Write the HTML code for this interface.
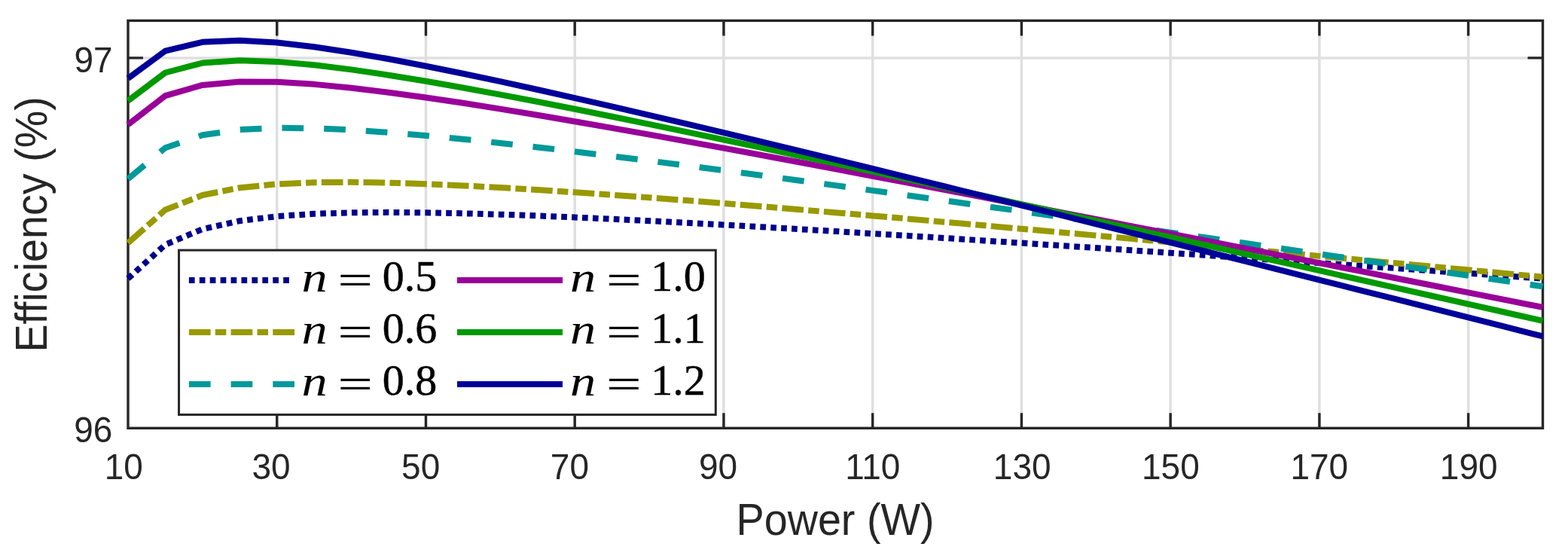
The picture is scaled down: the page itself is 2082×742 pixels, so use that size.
<!DOCTYPE html>
<html><head><meta charset="utf-8"><title>Efficiency vs Power</title><style>html,body{margin:0;padding:0;background:#fff;}svg{display:block;}</style></head><body>
<svg width="2082" height="742" viewBox="0 0 2082 742">
<rect x="0" y="0" width="2082" height="742" fill="#ffffff"/>
<path d="M367.74,27.40V568.30M565.47,27.40V568.30M763.21,27.40V568.30M960.94,27.40V568.30M1158.68,27.40V568.30M1356.42,27.40V568.30M1554.15,27.40V568.30M1751.89,27.40V568.30M1949.62,27.40V568.30M170.00,76.90H2048.50" stroke="#dfdfdf" stroke-width="3.5" fill="none"/>
<path d="M367.74,568.30V548.30M367.74,27.40V47.40M565.47,568.30V548.30M565.47,27.40V47.40M763.21,568.30V548.30M763.21,27.40V47.40M960.94,568.30V548.30M960.94,27.40V47.40M1158.68,568.30V548.30M1158.68,27.40V47.40M1356.42,568.30V548.30M1356.42,27.40V47.40M1554.15,568.30V548.30M1554.15,27.40V47.40M1751.89,568.30V548.30M1751.89,27.40V47.40M1949.62,568.30V548.30M1949.62,27.40V47.40M170.00,76.90H190.00M2048.50,76.90H2028.50" stroke="#262626" stroke-width="3.4" fill="none"/>
<rect x="170.0" y="27.4" width="1878.50" height="540.90" stroke="#262626" stroke-width="3.4" fill="none"/>
<path d="M170.00,369.78 L219.43,324.81 L268.87,304.15 L318.30,293.21 L367.74,287.13 L417.17,283.83 L466.60,282.26 L516.04,281.85 L565.47,282.25 L614.91,283.24 L664.34,284.68 L713.77,286.45 L763.21,288.49 L812.64,290.74 L862.08,293.17 L911.51,295.74 L960.94,298.43 L1010.38,301.22 L1059.81,304.10 L1109.25,307.04 L1158.68,310.06 L1208.11,313.12 L1257.55,316.24 L1306.98,319.39 L1356.42,322.59 L1405.85,325.81 L1455.28,329.07 L1504.72,332.35 L1554.15,335.66 L1603.59,338.99 L1653.02,342.34 L1702.45,345.71 L1751.89,349.09 L1801.32,352.49 L1850.76,355.90 L1900.19,359.32 L1949.62,362.76 L1999.06,366.20 L2048.49,369.66" stroke="#00008b" stroke-width="8" fill="none" stroke-linejoin="round" stroke-dasharray="7.7 6.22"/>
<path d="M170.00,322.52 L219.43,278.57 L268.87,259.02 L318.30,249.23 L367.74,244.32 L417.17,242.20 L466.60,241.81 L516.04,242.60 L565.47,244.19 L614.91,246.38 L664.34,249.01 L713.77,251.98 L763.21,255.21 L812.64,258.67 L862.08,262.30 L911.51,266.07 L960.94,269.96 L1010.38,273.95 L1059.81,278.02 L1109.25,282.18 L1158.68,286.39 L1208.11,290.66 L1257.55,294.97 L1306.98,299.33 L1356.42,303.73 L1405.85,308.16 L1455.28,312.62 L1504.72,317.11 L1554.15,321.62 L1603.59,326.15 L1653.02,330.70 L1702.45,335.27 L1751.89,339.86 L1801.32,344.46 L1850.76,349.08 L1900.19,353.70 L1949.62,358.34 L1999.06,362.99 L2048.49,367.65" stroke="#999900" stroke-width="8" fill="none" stroke-linejoin="round" stroke-dasharray="28.7 6.25 14.5 6.25"/>
<path d="M170.00,237.48 L219.43,196.24 L268.87,179.32 L318.30,172.13 L367.74,169.80 L417.17,170.26 L466.60,172.45 L516.04,175.80 L565.47,179.97 L614.91,184.72 L664.34,189.91 L713.77,195.45 L763.21,201.25 L812.64,207.27 L862.08,213.45 L911.51,219.79 L960.94,226.24 L1010.38,232.79 L1059.81,239.43 L1109.25,246.14 L1158.68,252.91 L1208.11,259.74 L1257.55,266.62 L1306.98,273.54 L1356.42,280.49 L1405.85,287.48 L1455.28,294.50 L1504.72,301.55 L1554.15,308.62 L1603.59,315.71 L1653.02,322.82 L1702.45,329.95 L1751.89,337.10 L1801.32,344.26 L1850.76,351.43 L1900.19,358.62 L1949.62,365.82 L1999.06,373.03 L2048.49,380.24" stroke="#009999" stroke-width="8" fill="none" stroke-linejoin="round" stroke-dasharray="28.7 27.0"/>
<path d="M170.00,165.39 L219.43,127.07 L268.87,112.91 L318.30,108.42 L367.74,108.76 L417.17,111.86 L466.60,116.69 L516.04,122.67 L565.47,129.46 L614.91,136.83 L664.34,144.64 L713.77,152.79 L763.21,161.20 L812.64,169.83 L862.08,178.63 L911.51,187.57 L960.94,196.63 L1010.38,205.79 L1059.81,215.03 L1109.25,224.35 L1158.68,233.73 L1208.11,243.16 L1257.55,252.64 L1306.98,262.17 L1356.42,271.73 L1405.85,281.32 L1455.28,290.95 L1504.72,300.60 L1554.15,310.27 L1603.59,319.97 L1653.02,329.68 L1702.45,339.42 L1751.89,349.16 L1801.32,358.93 L1850.76,368.71 L1900.19,378.50 L1949.62,388.30 L1999.06,398.11 L2048.49,407.93" stroke="#990099" stroke-width="8" fill="none" stroke-linejoin="round"/>
<path d="M170.00,133.78 L219.43,96.50 L268.87,83.53 L318.30,80.28 L367.74,81.89 L417.17,86.28 L466.60,92.40 L516.04,99.68 L565.47,107.78 L614.91,116.46 L664.34,125.58 L713.77,135.04 L763.21,144.77 L812.64,154.72 L862.08,164.84 L911.51,175.10 L960.94,185.48 L1010.38,195.96 L1059.81,206.52 L1109.25,217.16 L1158.68,227.86 L1208.11,238.62 L1257.55,249.42 L1306.98,260.27 L1356.42,271.15 L1405.85,282.07 L1455.28,293.02 L1504.72,303.99 L1554.15,314.99 L1603.59,326.01 L1653.02,337.05 L1702.45,348.11 L1751.89,359.18 L1801.32,370.27 L1850.76,381.37 L1900.19,392.48 L1949.62,403.61 L1999.06,414.74 L2048.49,425.89" stroke="#009900" stroke-width="8" fill="none" stroke-linejoin="round"/>
<path d="M170.00,104.09 L219.43,67.65 L268.87,55.77 L318.30,53.72 L367.74,56.59 L417.17,62.26 L466.60,69.69 L516.04,78.29 L565.47,87.71 L614.91,97.73 L664.34,108.19 L713.77,118.99 L763.21,130.07 L812.64,141.36 L862.08,152.82 L911.51,164.43 L960.94,176.16 L1010.38,188.00 L1059.81,199.92 L1109.25,211.91 L1158.68,223.96 L1208.11,236.08 L1257.55,248.24 L1306.98,260.44 L1356.42,272.68 L1405.85,284.96 L1455.28,297.26 L1504.72,309.59 L1554.15,321.95 L1603.59,334.32 L1653.02,346.72 L1702.45,359.14 L1751.89,371.57 L1801.32,384.02 L1850.76,396.48 L1900.19,408.95 L1949.62,421.43 L1999.06,433.93 L2048.49,446.44" stroke="#000099" stroke-width="8" fill="none" stroke-linejoin="round"/>
<g font-family="Liberation Sans, Arial, Helvetica, sans-serif" font-size="46" fill="#262626">
<text x="164.3" y="0" text-anchor="middle" transform="translate(0,635.9) scale(1,1.043)">10</text>
<text x="360.1" y="0" text-anchor="middle" transform="translate(0,635.9) scale(1,1.043)">30</text>
<text x="558.7" y="0" text-anchor="middle" transform="translate(0,635.9) scale(1,1.043)">50</text>
<text x="756.4" y="0" text-anchor="middle" transform="translate(0,635.9) scale(1,1.043)">70</text>
<text x="953.5" y="0" text-anchor="middle" transform="translate(0,635.9) scale(1,1.043)">90</text>
<text x="1158.8" y="0" text-anchor="middle" transform="translate(0,635.9) scale(1,1.043)">110</text>
<text x="1357.2" y="0" text-anchor="middle" transform="translate(0,635.9) scale(1,1.043)">130</text>
<text x="1554.4" y="0" text-anchor="middle" transform="translate(0,635.9) scale(1,1.043)">150</text>
<text x="1751.8" y="0" text-anchor="middle" transform="translate(0,635.9) scale(1,1.043)">170</text>
<text x="1950.2" y="0" text-anchor="middle" transform="translate(0,635.9) scale(1,1.043)">190</text>
<text x="124.0" y="0" text-anchor="middle" transform="translate(0,96.3) scale(1,1.043)">97</text>
<text x="123.8" y="0" text-anchor="middle" transform="translate(0,587.0) scale(1,1.043)">96</text>
</g>
<text x="0" y="0" font-family="Liberation Sans, Arial, Helvetica, sans-serif" font-size="55.7" fill="#262626" text-anchor="middle" transform="translate(1109.05,709.9) scale(1,1.06)">Power (W)</text>
<text x="0" y="0" font-family="Liberation Sans, Arial, Helvetica, sans-serif" font-size="55.7" fill="#262626" text-anchor="middle" transform="translate(62,297.95) rotate(-90) scale(1,1.06)">Efficiency (%)</text>
<rect x="237.55" y="332.1" width="712.75" height="218.35" fill="#ffffff" stroke="#262626" stroke-width="3"/>
<path d="M250.9,371.9H385.0" stroke="#00008b" stroke-width="8" fill="none" stroke-dasharray="7.7 6.22"/>
<g font-family="Liberation Serif, Times New Roman, serif" font-size="58" fill="#000" stroke="#000" stroke-width="0.5">
<text x="0" y="0" font-style="italic" stroke-width="0" transform="translate(400.49,386.60) scale(1.18,0.967)">n</text>
<text x="0" y="0" transform="translate(448.83,390.40) scale(1.408,0.959)">=</text>
<text x="507.80" y="386.00">0.5</text>
</g>
<path d="M250.9,441.0H391.0" stroke="#999900" stroke-width="8" fill="none" stroke-dasharray="28.7 6.25 14.5 6.25"/>
<g font-family="Liberation Serif, Times New Roman, serif" font-size="58" fill="#000" stroke="#000" stroke-width="0.5">
<text x="0" y="0" font-style="italic" stroke-width="0" transform="translate(400.49,455.60) scale(1.18,0.967)">n</text>
<text x="0" y="0" transform="translate(448.83,459.40) scale(1.408,0.959)">=</text>
<text x="507.80" y="455.00">0.6</text>
</g>
<path d="M250.9,510.0H391.0" stroke="#009999" stroke-width="8" fill="none" stroke-dasharray="28.7 27.0"/>
<g font-family="Liberation Serif, Times New Roman, serif" font-size="58" fill="#000" stroke="#000" stroke-width="0.5">
<text x="0" y="0" font-style="italic" stroke-width="0" transform="translate(400.49,524.60) scale(1.18,0.967)">n</text>
<text x="0" y="0" transform="translate(448.83,528.40) scale(1.408,0.959)">=</text>
<text x="507.80" y="524.00">0.8</text>
</g>
<path d="M607.0,371.9H747.0" stroke="#990099" stroke-width="8" fill="none"/>
<g font-family="Liberation Serif, Times New Roman, serif" font-size="58" fill="#000" stroke="#000" stroke-width="0.5">
<text x="0" y="0" font-style="italic" stroke-width="0" transform="translate(756.89,386.60) scale(1.18,0.967)">n</text>
<text x="0" y="0" transform="translate(805.23,390.40) scale(1.408,0.959)">=</text>
<text x="864.20" y="386.00">1.0</text>
</g>
<path d="M607.0,441.0H747.0" stroke="#009900" stroke-width="8" fill="none"/>
<g font-family="Liberation Serif, Times New Roman, serif" font-size="58" fill="#000" stroke="#000" stroke-width="0.5">
<text x="0" y="0" font-style="italic" stroke-width="0" transform="translate(756.89,455.60) scale(1.18,0.967)">n</text>
<text x="0" y="0" transform="translate(805.23,459.40) scale(1.408,0.959)">=</text>
<text x="864.20" y="455.00">1.1</text>
</g>
<path d="M607.0,510.0H747.0" stroke="#000099" stroke-width="8" fill="none"/>
<g font-family="Liberation Serif, Times New Roman, serif" font-size="58" fill="#000" stroke="#000" stroke-width="0.5">
<text x="0" y="0" font-style="italic" stroke-width="0" transform="translate(756.89,524.60) scale(1.18,0.967)">n</text>
<text x="0" y="0" transform="translate(805.23,528.40) scale(1.408,0.959)">=</text>
<text x="864.20" y="524.00">1.2</text>
</g>
</svg>
</body></html>
